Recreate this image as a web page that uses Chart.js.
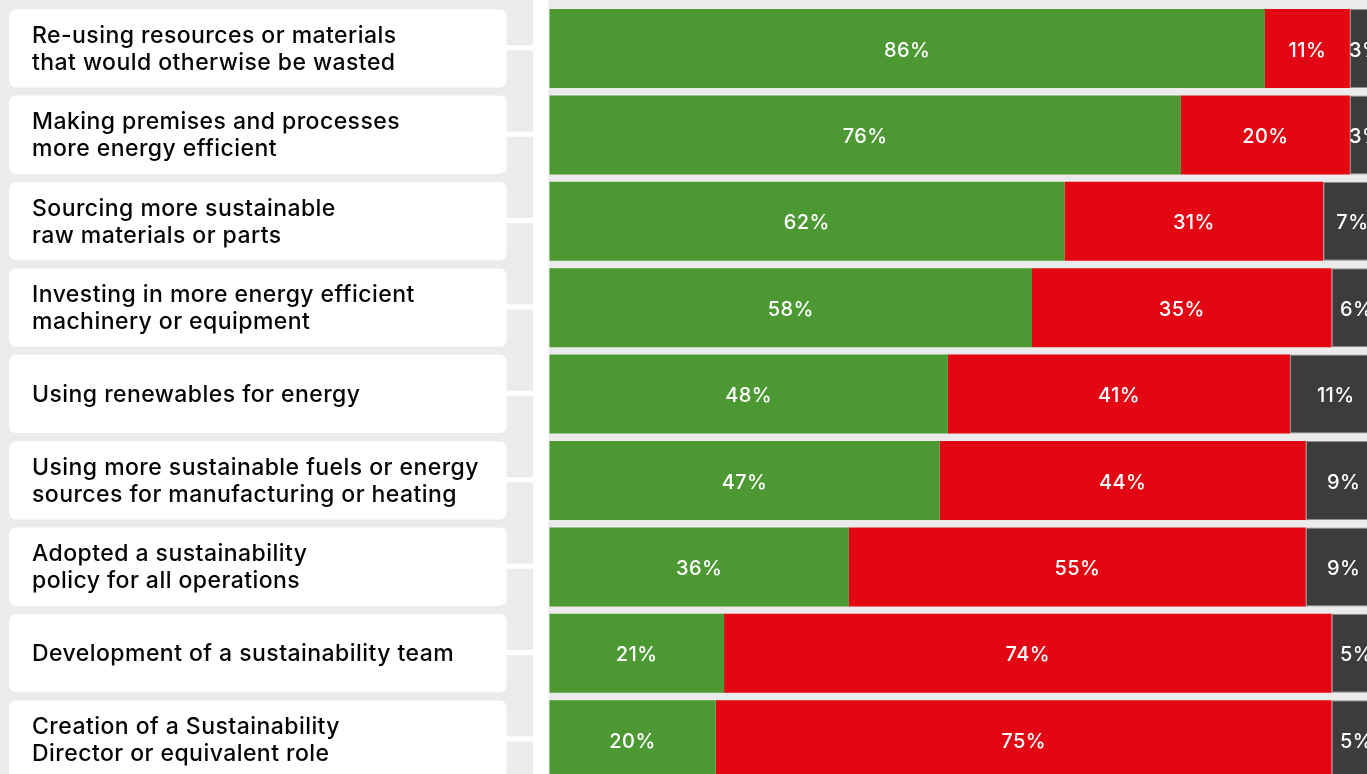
<!DOCTYPE html>
<html>
<head>
<meta charset="utf-8">
<script src="https://cdn.jsdelivr.net/npm/chart.js@4.4.1/dist/chart.umd.min.js"></script>
<style>
  html, body { margin: 0; padding: 0; background: #ebebeb; overflow: hidden; }
  canvas { display: block; }
</style>
</head>
<body>
<canvas id="c" width="1390" height="790" style="width:1390px;height:790px"></canvas>
<script>
const categories = [
  ["Re-using resources or materials", "that would otherwise be wasted"],
  ["Making premises and processes", "more energy efficient"],
  ["Sourcing more sustainable", "raw materials or parts"],
  ["Investing in more energy efficient", "machinery or equipment"],
  ["Using renewables for energy"],
  ["Using more sustainable fuels or energy", "sources for manufacturing or heating"],
  ["Adopted a sustainability", "policy for all operations"],
  ["Development of a sustainability team"],
  ["Creation of a Sustainability", "Director or equivalent role"]
];
// bar lengths (percent)
const greenValues = [86.0, 75.9, 61.9, 58.0, 47.9, 46.9, 36.0, 21.0, 20.0];
const redValues   = [10.2, 20.3, 31.1, 36.0, 41.1, 44.0, 54.9, 73.0, 74.0];
const greyValues  = [3.8, 3.8, 7.0, 6.0, 11.0, 9.1, 9.1, 6.0, 6.0];
// printed labels
const greenLabels = ["86%", "76%", "62%", "58%", "48%", "47%", "36%", "21%", "20%"];
const redLabels   = ["11%", "20%", "31%", "35%", "41%", "44%", "55%", "74%", "75%"];
const greyLabels  = ["3%", "3%", "7%", "6%", "11%", "9%", "9%", "5%", "5%"];

const FONT = "Inter, 'Open Sans', sans-serif";

const panelPlugin = {
  id: 'panel',
  beforeDraw(chart) {
    const ctx = chart.ctx;
    const y = chart.scales.y;
    ctx.save();
    ctx.fillStyle = '#ebebeb';
    ctx.fillRect(0, 0, chart.width, chart.height);
    ctx.fillStyle = '#ffffff';
    ctx.fillRect(533, 0, 15.5, chart.height);
    categories.forEach((c, i) => {
      const cy = y.getPixelForValue(i);
      ctx.fillStyle = '#ffffff';
      ctx.beginPath();
      ctx.roundRect(9, cy - 39.3, 497.7, 78.3, 7);
      ctx.fill();
      ctx.fillRect(500, cy - 3.4, 34, 5.2);
      // category text
      ctx.fillStyle = '#050505';
      ctx.font = "500 23px " + FONT;
      ctx.letterSpacing = '0.45px';
      ctx.textAlign = 'left';
      ctx.textBaseline = 'middle';
      const lh = 27;
      const start = cy + 1 - (c.length - 1) * lh / 2;
      c.forEach((line, k) => ctx.fillText(line, 32, start + k * lh));
    });
    ctx.restore();
  }
};

const labelPlugin = {
  id: 'barLabels',
  afterDatasetsDraw(chart) {
    const ctx = chart.ctx;
    const all = [greenLabels, redLabels, greyLabels];
    ctx.save();
    ctx.fillStyle = '#ffffff';
    ctx.font = "500 20px " + FONT;
    ctx.letterSpacing = '0.4px';
    ctx.textAlign = 'center';
    ctx.textBaseline = 'middle';
    chart.data.datasets.forEach((ds, di) => {
      const meta = chart.getDatasetMeta(di);
      meta.data.forEach((el, i) => {
        const x = (el.base + el.x) / 2;
        ctx.fillText(all[di][i], x, el.y + 2);
      });
    });
    ctx.restore();
  }
};

new Chart(document.getElementById('c'), {
  type: 'bar',
  data: {
    labels: categories,
    datasets: [
      { label: 'Green', data: greenValues, backgroundColor: '#4c9934', borderWidth: 0 },
      { label: 'Red', data: redValues, backgroundColor: '#e30613', borderWidth: 0 },
      { label: 'Grey', data: greyValues, backgroundColor: '#3c3c3b', borderColor: '#8f8f8f', borderWidth: 1, borderSkipped: false }
    ]
  },
  options: {
    indexAxis: 'y',
    responsive: false,
    animation: false,
    devicePixelRatio: 1,
    barPercentage: 0.914,
    categoryPercentage: 1,
    layout: { padding: { left: 549.3, right: 8.5, top: 5.3, bottom: 7.1 } },
    plugins: { legend: { display: false }, tooltip: { enabled: false } },
    scales: {
      x: { stacked: true, min: 0, max: 100, display: false },
      y: { stacked: true, display: false }
    }
  },
  plugins: [panelPlugin, labelPlugin]
});
</script>
</body>
</html>
